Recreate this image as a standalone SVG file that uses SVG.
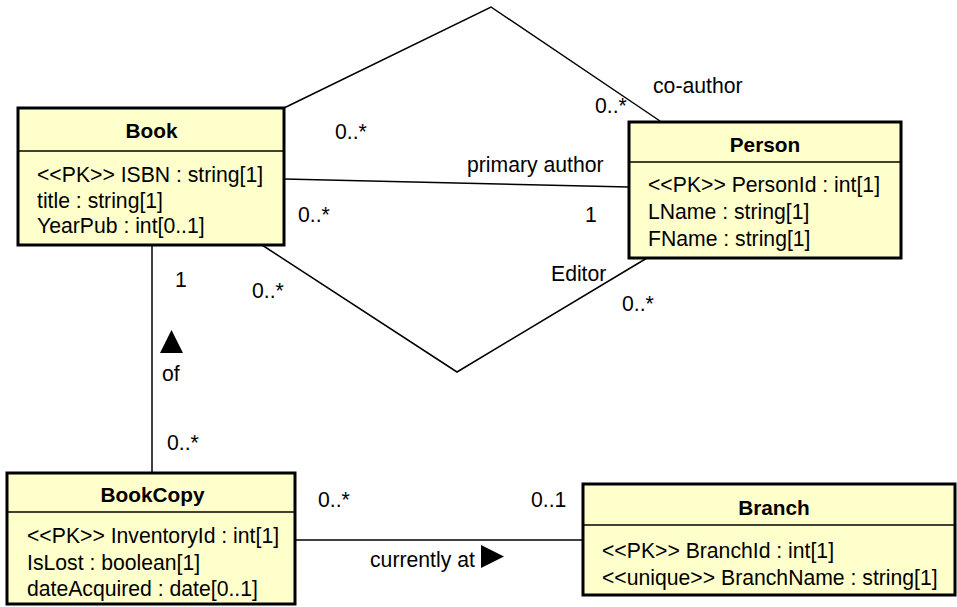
<svg xmlns="http://www.w3.org/2000/svg" width="957" height="607" viewBox="0 0 957 607">
<style>
.box{fill:#ffffcc;stroke:#000;stroke-width:3}
.div{stroke:#000;stroke-width:1.5}
.ln{fill:none;stroke:#000;stroke-width:1.5}
text{font-family:"Liberation Sans",Arial,sans-serif;font-size:21.2px;fill:#000}
.t{font-weight:bold;text-anchor:middle;font-size:20.8px}
</style>
<rect width="957" height="607" fill="#fff"/>
<g id="connectors">
<polyline class="ln" points="284,108 491,7 660,121"/>
<line class="ln" x1="284" y1="179" x2="629" y2="187"/>
<polyline class="ln" points="262,245 457,372 647,258"/>
<line class="ln" x1="152" y1="245" x2="152" y2="473"/>
<line class="ln" x1="295" y1="540" x2="583" y2="540"/>
<text x="335" y="139">0..*</text>
<text x="595" y="113">0..*</text>
<text x="653" y="93">co-author</text>
<text x="467" y="172">primary author</text>
<text x="298" y="222">0..*</text>
<text x="585" y="222">1</text>
<text x="551" y="281">Editor</text>
<text x="252" y="298">0..*</text>
<text x="622" y="311">0..*</text>
<text x="175" y="287">1</text>
<polygon points="160,353 183,353 171.5,330" fill="#000"/>
<text x="162" y="381">of</text>
<text x="167" y="450">0..*</text>
<text x="318" y="507">0..*</text>
<text x="531" y="507">0..1</text>
<text x="370" y="567">currently at</text>
<polygon points="481,545 504,556.5 481,568" fill="#000"/>
</g>
<g id="Book">
<rect class="box" x="18" y="108" width="266" height="137"/>
<line class="div" x1="18" y1="151" x2="284" y2="151"/>
<text class="t" x="151.5" y="138">Book</text>
<text x="37" y="182">&lt;&lt;PK&gt;&gt; ISBN : string[1]</text>
<text x="37" y="208">title : string[1]</text>
<text x="37" y="233">YearPub : int[0..1]</text>
</g>
<g id="Person">
<rect class="box" x="629" y="122" width="272" height="136"/>
<line class="div" x1="629" y1="162" x2="901" y2="162"/>
<text class="t" x="765" y="152">Person</text>
<text x="648" y="192">&lt;&lt;PK&gt;&gt; PersonId : int[1]</text>
<text x="648" y="219">LName : string[1]</text>
<text x="648" y="246">FName : string[1]</text>
</g>
<g id="BookCopy">
<rect class="box" x="7" y="473" width="288" height="131"/>
<line class="div" x1="7" y1="512" x2="295" y2="512"/>
<text class="t" x="152.5" y="502">BookCopy</text>
<text x="27" y="543">&lt;&lt;PK&gt;&gt; InventoryId : int[1]</text>
<text x="27" y="570">IsLost : boolean[1]</text>
<text x="27" y="596">dateAcquired : date[0..1]</text>
</g>
<g id="Branch">
<rect class="box" x="583" y="484" width="372" height="111"/>
<line class="div" x1="583" y1="525" x2="955" y2="525"/>
<text class="t" x="774" y="515">Branch</text>
<text x="602" y="558">&lt;&lt;PK&gt;&gt; BranchId : int[1]</text>
<text x="602" y="585">&lt;&lt;unique&gt;&gt; BranchName : string[1]</text>
</g>
</svg>
